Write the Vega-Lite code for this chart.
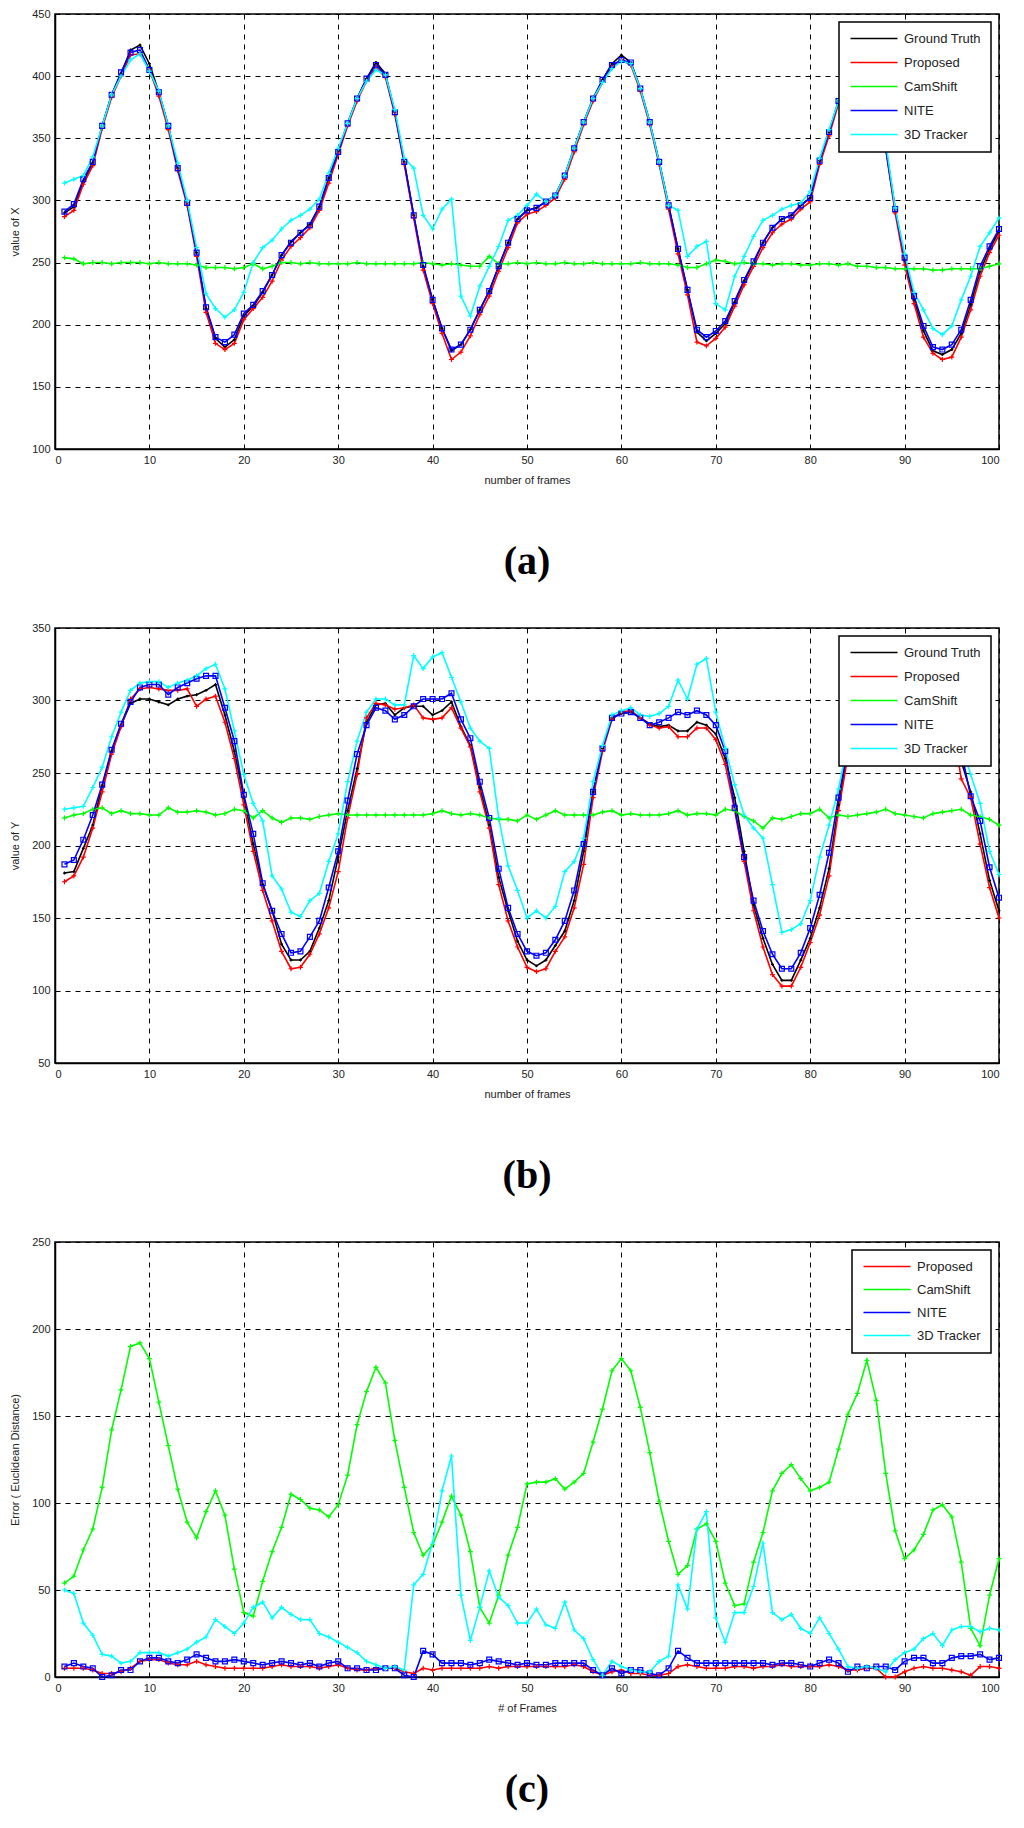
{
"$schema": "https://vega.github.io/schema/vega-lite/v6.json",
"background": "white",
"padding": {"left": 8, "top": 7, "right": 5, "bottom": 2},
"config": {
 "view": {"stroke": "black", "strokeWidth": 1.5},
 "axis": {"grid": true, "gridColor": "black", "gridDash": [5, 5], "gridOpacity": 1, "gridWidth": 1, "domainColor": "black", "domainWidth": 1.5, "ticks": false, "labelFont": "Liberation Sans", "labelFontSize": 11, "labelColor": "#222", "titleFont": "Liberation Sans", "titleFontSize": 11, "titleFontWeight": "normal", "titleColor": "#222", "labelPadding": 5},
 "axisX": {"titlePadding": 9},
 "axisY": {"titlePadding": 11},
 "legend": {"fillColor": "white", "strokeColor": "black", "strokeWidth": 1.5, "padding": 10, "symbolType": "M-1,0H8.4", "symbolSize": 100, "symbolStrokeWidth": 1.6, "labelFont": "Liberation Sans", "labelFontSize": 13, "labelColor": "#222", "rowPadding": 10, "labelOffset": 42, "orient": "top-right", "offset": 8, "labelLimit": 200},
 "title": {"font": "Liberation Serif", "fontSize": 40, "fontWeight": "bold", "orient": "bottom", "anchor": "middle", "offset": 57, "color": "black"},
 "concat": {"spacing": 38}
},
"datasets": {
"a": [
{"f":1,"GT":290,"PR":287,"CS":254,"NI":291,"TD":314},
{"f":2,"GT":295,"PR":292,"CS":253,"NI":297,"TD":317},
{"f":3,"GT":315,"PR":313,"CS":249,"NI":317,"TD":320},
{"f":4,"GT":330,"PR":328,"CS":250,"NI":331,"TD":335},
{"f":5,"GT":360,"PR":358,"CS":250,"NI":360,"TD":360},
{"f":6,"GT":385,"PR":383,"CS":249,"NI":385,"TD":385},
{"f":7,"GT":402,"PR":400,"CS":250,"NI":403,"TD":400},
{"f":8,"GT":421,"PR":417,"CS":250,"NI":419,"TD":413},
{"f":9,"GT":425,"PR":418,"CS":250,"NI":421,"TD":418},
{"f":10,"GT":410,"PR":405,"CS":249,"NI":405,"TD":404},
{"f":11,"GT":387,"PR":384,"CS":250,"NI":387,"TD":388},
{"f":12,"GT":360,"PR":357,"CS":249,"NI":360,"TD":360},
{"f":13,"GT":326,"PR":324,"CS":249,"NI":326,"TD":330},
{"f":14,"GT":298,"PR":296,"CS":249,"NI":298,"TD":300},
{"f":15,"GT":258,"PR":255,"CS":248,"NI":258,"TD":262},
{"f":16,"GT":213,"PR":210,"CS":246,"NI":214,"TD":225},
{"f":17,"GT":189,"PR":185,"CS":246,"NI":190,"TD":213},
{"f":18,"GT":182,"PR":180,"CS":246,"NI":186,"TD":206},
{"f":19,"GT":188,"PR":185,"CS":245,"NI":192,"TD":212},
{"f":20,"GT":207,"PR":204,"CS":246,"NI":209,"TD":226},
{"f":21,"GT":215,"PR":213,"CS":249,"NI":216,"TD":250},
{"f":22,"GT":226,"PR":222,"CS":245,"NI":227,"TD":262},
{"f":23,"GT":240,"PR":235,"CS":247,"NI":240,"TD":268},
{"f":24,"GT":256,"PR":252,"CS":250,"NI":256,"TD":277},
{"f":25,"GT":267,"PR":263,"CS":250,"NI":266,"TD":284},
{"f":26,"GT":274,"PR":270,"CS":249,"NI":274,"TD":288},
{"f":27,"GT":281,"PR":278,"CS":250,"NI":280,"TD":293},
{"f":28,"GT":295,"PR":292,"CS":249,"NI":295,"TD":301},
{"f":29,"GT":318,"PR":314,"CS":249,"NI":318,"TD":322},
{"f":30,"GT":340,"PR":337,"CS":249,"NI":339,"TD":342},
{"f":31,"GT":362,"PR":360,"CS":249,"NI":362,"TD":362},
{"f":32,"GT":382,"PR":380,"CS":250,"NI":382,"TD":382},
{"f":33,"GT":398,"PR":396,"CS":249,"NI":398,"TD":396},
{"f":34,"GT":411,"PR":407,"CS":249,"NI":409,"TD":405},
{"f":35,"GT":402,"PR":399,"CS":249,"NI":401,"TD":401},
{"f":36,"GT":371,"PR":369,"CS":249,"NI":371,"TD":373},
{"f":37,"GT":331,"PR":329,"CS":249,"NI":331,"TD":334},
{"f":38,"GT":288,"PR":286,"CS":249,"NI":288,"TD":326},
{"f":39,"GT":247,"PR":244,"CS":250,"NI":248,"TD":288},
{"f":40,"GT":220,"PR":217,"CS":249,"NI":220,"TD":277},
{"f":41,"GT":197,"PR":193,"CS":248,"NI":197,"TD":293},
{"f":42,"GT":179,"PR":172,"CS":249,"NI":180,"TD":301},
{"f":43,"GT":184,"PR":178,"CS":248,"NI":184,"TD":223},
{"f":44,"GT":196,"PR":191,"CS":247,"NI":196,"TD":207},
{"f":45,"GT":212,"PR":208,"CS":247,"NI":212,"TD":231},
{"f":46,"GT":227,"PR":223,"CS":255,"NI":227,"TD":247},
{"f":47,"GT":247,"PR":243,"CS":249,"NI":247,"TD":263},
{"f":48,"GT":266,"PR":262,"CS":249,"NI":266,"TD":284},
{"f":49,"GT":285,"PR":282,"CS":250,"NI":285,"TD":288},
{"f":50,"GT":292,"PR":289,"CS":249,"NI":292,"TD":296},
{"f":51,"GT":294,"PR":291,"CS":250,"NI":294,"TD":305},
{"f":52,"GT":299,"PR":296,"CS":249,"NI":299,"TD":299},
{"f":53,"GT":304,"PR":302,"CS":249,"NI":304,"TD":304},
{"f":54,"GT":320,"PR":317,"CS":250,"NI":320,"TD":320},
{"f":55,"GT":342,"PR":339,"CS":249,"NI":342,"TD":342},
{"f":56,"GT":363,"PR":361,"CS":249,"NI":363,"TD":363},
{"f":57,"GT":382,"PR":380,"CS":250,"NI":382,"TD":382},
{"f":58,"GT":397,"PR":395,"CS":249,"NI":397,"TD":395},
{"f":59,"GT":410,"PR":407,"CS":249,"NI":409,"TD":406},
{"f":60,"GT":417,"PR":413,"CS":249,"NI":413,"TD":412},
{"f":61,"GT":411,"PR":409,"CS":249,"NI":411,"TD":410},
{"f":62,"GT":390,"PR":388,"CS":250,"NI":390,"TD":390},
{"f":63,"GT":363,"PR":361,"CS":249,"NI":363,"TD":363},
{"f":64,"GT":331,"PR":329,"CS":249,"NI":331,"TD":331},
{"f":65,"GT":296,"PR":293,"CS":249,"NI":296,"TD":296},
{"f":66,"GT":261,"PR":257,"CS":248,"NI":261,"TD":292},
{"f":67,"GT":228,"PR":224,"CS":246,"NI":228,"TD":255},
{"f":68,"GT":194,"PR":186,"CS":246,"NI":196,"TD":263},
{"f":69,"GT":187,"PR":183,"CS":249,"NI":190,"TD":267},
{"f":70,"GT":193,"PR":189,"CS":252,"NI":195,"TD":217},
{"f":71,"GT":201,"PR":198,"CS":251,"NI":203,"TD":212},
{"f":72,"GT":218,"PR":215,"CS":249,"NI":219,"TD":239},
{"f":73,"GT":235,"PR":232,"CS":250,"NI":236,"TD":255},
{"f":74,"GT":250,"PR":247,"CS":249,"NI":251,"TD":271},
{"f":75,"GT":266,"PR":262,"CS":249,"NI":266,"TD":284},
{"f":76,"GT":278,"PR":274,"CS":248,"NI":278,"TD":288},
{"f":77,"GT":285,"PR":281,"CS":249,"NI":285,"TD":293},
{"f":78,"GT":288,"PR":285,"CS":249,"NI":288,"TD":296},
{"f":79,"GT":296,"PR":293,"CS":248,"NI":296,"TD":298},
{"f":80,"GT":302,"PR":299,"CS":248,"NI":302,"TD":307},
{"f":81,"GT":332,"PR":329,"CS":249,"NI":332,"TD":334},
{"f":82,"GT":355,"PR":352,"CS":249,"NI":355,"TD":357},
{"f":83,"GT":380,"PR":378,"CS":248,"NI":380,"TD":380},
{"f":84,"GT":400,"PR":398,"CS":249,"NI":400,"TD":400},
{"f":85,"GT":412,"PR":410,"CS":247,"NI":412,"TD":410},
{"f":86,"GT":415,"PR":412,"CS":247,"NI":414,"TD":412},
{"f":87,"GT":395,"PR":392,"CS":246,"NI":394,"TD":395},
{"f":88,"GT":343,"PR":341,"CS":246,"NI":342,"TD":347},
{"f":89,"GT":293,"PR":290,"CS":245,"NI":293,"TD":294},
{"f":90,"GT":252,"PR":248,"CS":245,"NI":254,"TD":257},
{"f":91,"GT":220,"PR":217,"CS":245,"NI":223,"TD":226},
{"f":92,"GT":195,"PR":190,"CS":245,"NI":199,"TD":212},
{"f":93,"GT":179,"PR":177,"CS":244,"NI":182,"TD":197},
{"f":94,"GT":176,"PR":172,"CS":244,"NI":180,"TD":192},
{"f":95,"GT":180,"PR":174,"CS":245,"NI":184,"TD":199},
{"f":96,"GT":193,"PR":190,"CS":245,"NI":196,"TD":220},
{"f":97,"GT":216,"PR":212,"CS":245,"NI":220,"TD":239},
{"f":98,"GT":243,"PR":239,"CS":245,"NI":247,"TD":263},
{"f":99,"GT":261,"PR":258,"CS":247,"NI":263,"TD":274},
{"f":100,"GT":275,"PR":272,"CS":249,"NI":277,"TD":286}
],
"b": [
{"f":1,"GT":181,"PR":175,"CS":219,"NI":187,"TD":225},
{"f":2,"GT":182,"PR":179,"CS":221,"NI":190,"TD":226},
{"f":3,"GT":198,"PR":192,"CS":222,"NI":204,"TD":227},
{"f":4,"GT":214,"PR":212,"CS":225,"NI":221,"TD":240},
{"f":5,"GT":241,"PR":237,"CS":226,"NI":242,"TD":254},
{"f":6,"GT":265,"PR":263,"CS":222,"NI":266,"TD":275},
{"f":7,"GT":283,"PR":282,"CS":224,"NI":284,"TD":292},
{"f":8,"GT":298,"PR":301,"CS":222,"NI":299,"TD":307},
{"f":9,"GT":301,"PR":308,"CS":222,"NI":309,"TD":312},
{"f":10,"GT":301,"PR":309,"CS":221,"NI":311,"TD":313},
{"f":11,"GT":299,"PR":308,"CS":221,"NI":311,"TD":313},
{"f":12,"GT":297,"PR":307,"CS":226,"NI":304,"TD":309},
{"f":13,"GT":301,"PR":307,"CS":223,"NI":309,"TD":312},
{"f":14,"GT":303,"PR":308,"CS":223,"NI":312,"TD":314},
{"f":15,"GT":304,"PR":296,"CS":224,"NI":315,"TD":317},
{"f":16,"GT":307,"PR":301,"CS":223,"NI":317,"TD":322},
{"f":17,"GT":311,"PR":303,"CS":221,"NI":317,"TD":325},
{"f":18,"GT":290,"PR":285,"CS":222,"NI":295,"TD":308},
{"f":19,"GT":265,"PR":260,"CS":225,"NI":272,"TD":279},
{"f":20,"GT":233,"PR":228,"CS":224,"NI":235,"TD":249},
{"f":21,"GT":201,"PR":196,"CS":219,"NI":208,"TD":229},
{"f":22,"GT":173,"PR":169,"CS":224,"NI":174,"TD":217},
{"f":23,"GT":155,"PR":148,"CS":219,"NI":155,"TD":179},
{"f":24,"GT":132,"PR":127,"CS":216,"NI":139,"TD":170},
{"f":25,"GT":121,"PR":115,"CS":219,"NI":126,"TD":154},
{"f":26,"GT":121,"PR":116,"CS":219,"NI":127,"TD":151},
{"f":27,"GT":127,"PR":125,"CS":218,"NI":137,"TD":162},
{"f":28,"GT":143,"PR":139,"CS":220,"NI":148,"TD":167},
{"f":29,"GT":162,"PR":157,"CS":221,"NI":171,"TD":189},
{"f":30,"GT":192,"PR":182,"CS":222,"NI":196,"TD":208},
{"f":31,"GT":224,"PR":219,"CS":221,"NI":231,"TD":244},
{"f":32,"GT":253,"PR":249,"CS":221,"NI":263,"TD":272},
{"f":33,"GT":285,"PR":288,"CS":221,"NI":283,"TD":292},
{"f":34,"GT":297,"PR":298,"CS":221,"NI":295,"TD":301},
{"f":35,"GT":298,"PR":297,"CS":221,"NI":293,"TD":301},
{"f":36,"GT":290,"PR":294,"CS":221,"NI":287,"TD":297},
{"f":37,"GT":295,"PR":295,"CS":221,"NI":290,"TD":297},
{"f":38,"GT":296,"PR":297,"CS":221,"NI":296,"TD":331},
{"f":39,"GT":296,"PR":288,"CS":221,"NI":301,"TD":322},
{"f":40,"GT":290,"PR":287,"CS":222,"NI":301,"TD":330},
{"f":41,"GT":293,"PR":288,"CS":224,"NI":301,"TD":333},
{"f":42,"GT":299,"PR":295,"CS":222,"NI":305,"TD":316},
{"f":43,"GT":282,"PR":281,"CS":221,"NI":287,"TD":299},
{"f":44,"GT":269,"PR":268,"CS":222,"NI":274,"TD":281},
{"f":45,"GT":240,"PR":237,"CS":221,"NI":244,"TD":272},
{"f":46,"GT":214,"PR":212,"CS":219,"NI":219,"TD":267},
{"f":47,"GT":178,"PR":173,"CS":218,"NI":184,"TD":219},
{"f":48,"GT":155,"PR":148,"CS":218,"NI":157,"TD":186},
{"f":49,"GT":134,"PR":130,"CS":217,"NI":139,"TD":169},
{"f":50,"GT":121,"PR":116,"CS":221,"NI":127,"TD":150},
{"f":51,"GT":117,"PR":113,"CS":218,"NI":124,"TD":155},
{"f":52,"GT":121,"PR":115,"CS":221,"NI":126,"TD":150},
{"f":53,"GT":131,"PR":127,"CS":224,"NI":135,"TD":158},
{"f":54,"GT":141,"PR":137,"CS":221,"NI":148,"TD":182},
{"f":55,"GT":162,"PR":157,"CS":221,"NI":169,"TD":189},
{"f":56,"GT":196,"PR":187,"CS":221,"NI":201,"TD":205},
{"f":57,"GT":237,"PR":233,"CS":221,"NI":237,"TD":244},
{"f":58,"GT":267,"PR":265,"CS":223,"NI":267,"TD":269},
{"f":59,"GT":288,"PR":287,"CS":224,"NI":288,"TD":290},
{"f":60,"GT":291,"PR":292,"CS":221,"NI":291,"TD":293},
{"f":61,"GT":292,"PR":293,"CS":222,"NI":292,"TD":295},
{"f":62,"GT":288,"PR":288,"CS":221,"NI":288,"TD":290},
{"f":63,"GT":284,"PR":283,"CS":221,"NI":283,"TD":289},
{"f":64,"GT":282,"PR":281,"CS":221,"NI":285,"TD":291},
{"f":65,"GT":283,"PR":282,"CS":222,"NI":288,"TD":296},
{"f":66,"GT":279,"PR":275,"CS":224,"NI":292,"TD":314},
{"f":67,"GT":279,"PR":275,"CS":221,"NI":290,"TD":301},
{"f":68,"GT":285,"PR":281,"CS":222,"NI":293,"TD":325},
{"f":69,"GT":283,"PR":281,"CS":222,"NI":290,"TD":329},
{"f":70,"GT":277,"PR":273,"CS":221,"NI":283,"TD":292},
{"f":71,"GT":260,"PR":256,"CS":225,"NI":265,"TD":267},
{"f":72,"GT":233,"PR":224,"CS":224,"NI":226,"TD":242},
{"f":73,"GT":196,"PR":189,"CS":220,"NI":192,"TD":221},
{"f":74,"GT":159,"PR":155,"CS":217,"NI":162,"TD":212},
{"f":75,"GT":136,"PR":130,"CS":212,"NI":141,"TD":205},
{"f":76,"GT":118,"PR":111,"CS":219,"NI":125,"TD":173},
{"f":77,"GT":107,"PR":103,"CS":218,"NI":115,"TD":140},
{"f":78,"GT":107,"PR":103,"CS":220,"NI":115,"TD":142},
{"f":79,"GT":121,"PR":116,"CS":222,"NI":126,"TD":146},
{"f":80,"GT":136,"PR":133,"CS":222,"NI":143,"TD":162},
{"f":81,"GT":157,"PR":152,"CS":225,"NI":166,"TD":192},
{"f":82,"GT":184,"PR":179,"CS":219,"NI":195,"TD":214},
{"f":83,"GT":228,"PR":224,"CS":221,"NI":233,"TD":239},
{"f":84,"GT":265,"PR":262,"CS":220,"NI":268,"TD":272},
{"f":85,"GT":285,"PR":283,"CS":221,"NI":288,"TD":292},
{"f":86,"GT":294,"PR":292,"CS":222,"NI":296,"TD":300},
{"f":87,"GT":297,"PR":295,"CS":223,"NI":298,"TD":303},
{"f":88,"GT":296,"PR":294,"CS":225,"NI":297,"TD":302},
{"f":89,"GT":295,"PR":293,"CS":222,"NI":296,"TD":300},
{"f":90,"GT":294,"PR":292,"CS":221,"NI":295,"TD":299},
{"f":91,"GT":295,"PR":293,"CS":220,"NI":296,"TD":300},
{"f":92,"GT":296,"PR":294,"CS":219,"NI":297,"TD":301},
{"f":93,"GT":297,"PR":295,"CS":222,"NI":298,"TD":302},
{"f":94,"GT":296,"PR":294,"CS":223,"NI":297,"TD":301},
{"f":95,"GT":290,"PR":287,"CS":224,"NI":292,"TD":296},
{"f":96,"GT":258,"PR":246,"CS":225,"NI":265,"TD":270},
{"f":97,"GT":237,"PR":233,"CS":221,"NI":234,"TD":249},
{"f":98,"GT":208,"PR":201,"CS":220,"NI":217,"TD":229},
{"f":99,"GT":176,"PR":171,"CS":218,"NI":185,"TD":196},
{"f":100,"GT":155,"PR":150,"CS":214,"NI":164,"TD":180}
],
"c": [
{"f":1,"PR":5,"CS":54,"NI":6,"TD":50},
{"f":2,"PR":5,"CS":58,"NI":8,"TD":48},
{"f":3,"PR":5,"CS":73,"NI":6,"TD":31},
{"f":4,"PR":4,"CS":85,"NI":5,"TD":24},
{"f":5,"PR":2,"CS":109,"NI":0,"TD":13},
{"f":6,"PR":2,"CS":142,"NI":1,"TD":12},
{"f":7,"PR":3,"CS":165,"NI":4,"TD":8},
{"f":8,"PR":5,"CS":190,"NI":4,"TD":9},
{"f":9,"PR":9,"CS":192,"NI":9,"TD":14},
{"f":10,"PR":10,"CS":183,"NI":11,"TD":14},
{"f":11,"PR":10,"CS":158,"NI":11,"TD":14},
{"f":12,"PR":8,"CS":133,"NI":9,"TD":12},
{"f":13,"PR":7,"CS":108,"NI":8,"TD":14},
{"f":14,"PR":7,"CS":89,"NI":10,"TD":16},
{"f":15,"PR":9,"CS":80,"NI":13,"TD":20},
{"f":16,"PR":7,"CS":95,"NI":11,"TD":23},
{"f":17,"PR":6,"CS":107,"NI":9,"TD":33},
{"f":18,"PR":5,"CS":93,"NI":9,"TD":29},
{"f":19,"PR":5,"CS":62,"NI":10,"TD":25},
{"f":20,"PR":5,"CS":37,"NI":9,"TD":31},
{"f":21,"PR":5,"CS":35,"NI":8,"TD":40},
{"f":22,"PR":5,"CS":55,"NI":7,"TD":43},
{"f":23,"PR":6,"CS":72,"NI":8,"TD":34},
{"f":24,"PR":7,"CS":86,"NI":9,"TD":40},
{"f":25,"PR":6,"CS":105,"NI":8,"TD":36},
{"f":26,"PR":6,"CS":102,"NI":7,"TD":33},
{"f":27,"PR":6,"CS":97,"NI":8,"TD":33},
{"f":28,"PR":5,"CS":96,"NI":6,"TD":25},
{"f":29,"PR":6,"CS":92,"NI":8,"TD":23},
{"f":30,"PR":7,"CS":99,"NI":9,"TD":20},
{"f":31,"PR":5,"CS":116,"NI":5,"TD":17},
{"f":32,"PR":4,"CS":145,"NI":5,"TD":14},
{"f":33,"PR":4,"CS":164,"NI":4,"TD":9},
{"f":34,"PR":5,"CS":178,"NI":4,"TD":7},
{"f":35,"PR":5,"CS":169,"NI":5,"TD":5},
{"f":36,"PR":5,"CS":136,"NI":5,"TD":6},
{"f":37,"PR":3,"CS":109,"NI":1,"TD":4},
{"f":38,"PR":2,"CS":83,"NI":0,"TD":53},
{"f":39,"PR":5,"CS":70,"NI":15,"TD":59},
{"f":40,"PR":4,"CS":76,"NI":13,"TD":77},
{"f":41,"PR":5,"CS":89,"NI":8,"TD":107},
{"f":42,"PR":5,"CS":104,"NI":8,"TD":127},
{"f":43,"PR":5,"CS":93,"NI":8,"TD":47},
{"f":44,"PR":5,"CS":72,"NI":7,"TD":21},
{"f":45,"PR":5,"CS":40,"NI":8,"TD":40},
{"f":46,"PR":6,"CS":31,"NI":10,"TD":61},
{"f":47,"PR":5,"CS":47,"NI":9,"TD":46},
{"f":48,"PR":6,"CS":70,"NI":8,"TD":41},
{"f":49,"PR":6,"CS":86,"NI":7,"TD":31},
{"f":50,"PR":6,"CS":111,"NI":8,"TD":31},
{"f":51,"PR":6,"CS":112,"NI":7,"TD":39},
{"f":52,"PR":6,"CS":112,"NI":7,"TD":30},
{"f":53,"PR":6,"CS":114,"NI":8,"TD":28},
{"f":54,"PR":6,"CS":108,"NI":8,"TD":43},
{"f":55,"PR":7,"CS":112,"NI":8,"TD":27},
{"f":56,"PR":6,"CS":117,"NI":8,"TD":22},
{"f":57,"PR":3,"CS":135,"NI":4,"TD":10},
{"f":58,"PR":1,"CS":154,"NI":1,"TD":1},
{"f":59,"PR":3,"CS":176,"NI":5,"TD":9},
{"f":60,"PR":4,"CS":183,"NI":2,"TD":6},
{"f":61,"PR":2,"CS":176,"NI":4,"TD":4},
{"f":62,"PR":2,"CS":155,"NI":4,"TD":3},
{"f":63,"PR":1,"CS":129,"NI":2,"TD":3},
{"f":64,"PR":1,"CS":101,"NI":1,"TD":9},
{"f":65,"PR":2,"CS":78,"NI":5,"TD":12},
{"f":66,"PR":6,"CS":59,"NI":15,"TD":53},
{"f":67,"PR":7,"CS":64,"NI":11,"TD":39},
{"f":68,"PR":6,"CS":85,"NI":8,"TD":85},
{"f":69,"PR":5,"CS":88,"NI":8,"TD":95},
{"f":70,"PR":5,"CS":78,"NI":8,"TD":34},
{"f":71,"PR":5,"CS":54,"NI":8,"TD":20},
{"f":72,"PR":6,"CS":41,"NI":8,"TD":37},
{"f":73,"PR":6,"CS":42,"NI":8,"TD":37},
{"f":74,"PR":5,"CS":66,"NI":8,"TD":52},
{"f":75,"PR":6,"CS":83,"NI":8,"TD":77},
{"f":76,"PR":6,"CS":107,"NI":7,"TD":37},
{"f":77,"PR":7,"CS":117,"NI":8,"TD":33},
{"f":78,"PR":6,"CS":122,"NI":8,"TD":36},
{"f":79,"PR":6,"CS":114,"NI":7,"TD":28},
{"f":80,"PR":6,"CS":107,"NI":6,"TD":25},
{"f":81,"PR":6,"CS":109,"NI":8,"TD":34},
{"f":82,"PR":7,"CS":112,"NI":10,"TD":25},
{"f":83,"PR":6,"CS":131,"NI":8,"TD":16},
{"f":84,"PR":4,"CS":151,"NI":3,"TD":6},
{"f":85,"PR":4,"CS":163,"NI":6,"TD":5},
{"f":86,"PR":5,"CS":182,"NI":5,"TD":6},
{"f":87,"PR":5,"CS":159,"NI":6,"TD":5},
{"f":88,"PR":0,"CS":117,"NI":6,"TD":3},
{"f":89,"PR":0,"CS":84,"NI":4,"TD":10},
{"f":90,"PR":3,"CS":68,"NI":9,"TD":14},
{"f":91,"PR":5,"CS":73,"NI":11,"TD":16},
{"f":92,"PR":6,"CS":82,"NI":11,"TD":22},
{"f":93,"PR":5,"CS":96,"NI":8,"TD":25},
{"f":94,"PR":5,"CS":99,"NI":8,"TD":18},
{"f":95,"PR":4,"CS":92,"NI":11,"TD":27},
{"f":96,"PR":3,"CS":66,"NI":12,"TD":29},
{"f":97,"PR":1,"CS":28,"NI":12,"TD":29},
{"f":98,"PR":6,"CS":18,"NI":13,"TD":26},
{"f":99,"PR":6,"CS":47,"NI":10,"TD":28},
{"f":100,"PR":5,"CS":68,"NI":11,"TD":27}
]
},
"vconcat": [
{
 "data": {"name": "a"},
 "width": 944, "height": 435,
 "title": {"text": "(a)"},
 "transform": [{"fold": ["GT", "PR", "CS", "NI", "TD"], "as": ["s", "v"]}],
 "encoding": {
  "x": {"field": "f", "type": "quantitative", "scale": {"domain": [0, 100], "nice": false}, "axis": {"title": "number of frames", "values": [0,10,20,30,40,50,60,70,80,90,100]}},
  "y": {"field": "v", "type": "quantitative", "scale": {"domain": [100, 450], "nice": false}, "axis": {"title": "value of X", "values": [100,150,200,250,300,350,400,450]}}
 },
 "layer": [
  {"mark": {"type": "line", "strokeWidth": 1.6},
   "encoding": {"color": {"field": "s", "type": "nominal", "sort": null, "scale": {"domain": ["GT", "PR", "CS", "NI", "TD"], "range": ["#000000", "#ff0000", "#00ff00", "#0000ff", "#00ffff"]}, "legend": {"title": null, "labelExpr": "{'GT':'Ground Truth','PR':'Proposed','CS':'CamShift','NI':'NITE','TD':'3D Tracker'}[datum.label]"}}}},
  {"mark": {"type": "point", "filled": false, "size": 24, "strokeWidth": 1.2, "opacity": 1},
   "encoding": {"color": {"field": "s", "type": "nominal", "scale": {"domain": ["GT", "PR", "CS", "NI", "TD"], "range": ["#000000", "#ff0000", "#00ff00", "#0000ff", "#00ffff"]}, "legend": null},
    "shape": {"field": "s", "type": "nominal", "scale": {"domain": ["GT", "PR", "CS", "NI", "TD"], "range": ["M-0.6,0H0.6M0,-0.6V0.6", "M-1,0H1M0,-1V1", "M-1,0H1M0,-1V1", "square", "M-1,0H1M0,-1V1"]}, "legend": null}}}
 ],
 "resolve": {"scale": {"color": "independent", "shape": "independent"}, "legend": {"color": "independent", "shape": "independent"}}
},
{
 "data": {"name": "b"},
 "width": 944, "height": 435,
 "title": {"text": "(b)"},
 "transform": [{"fold": ["GT", "PR", "CS", "NI", "TD"], "as": ["s", "v"]}],
 "encoding": {
  "x": {"field": "f", "type": "quantitative", "scale": {"domain": [0, 100], "nice": false}, "axis": {"title": "number of frames", "values": [0,10,20,30,40,50,60,70,80,90,100]}},
  "y": {"field": "v", "type": "quantitative", "scale": {"domain": [50, 350], "nice": false}, "axis": {"title": "value of Y", "values": [50,100,150,200,250,300,350]}}
 },
 "layer": [
  {"mark": {"type": "line", "strokeWidth": 1.6},
   "encoding": {"color": {"field": "s", "type": "nominal", "sort": null, "scale": {"domain": ["GT", "PR", "CS", "NI", "TD"], "range": ["#000000", "#ff0000", "#00ff00", "#0000ff", "#00ffff"]}, "legend": {"title": null, "labelExpr": "{'GT':'Ground Truth','PR':'Proposed','CS':'CamShift','NI':'NITE','TD':'3D Tracker'}[datum.label]"}}}},
  {"mark": {"type": "point", "filled": false, "size": 24, "strokeWidth": 1.2, "opacity": 1},
   "encoding": {"color": {"field": "s", "type": "nominal", "scale": {"domain": ["GT", "PR", "CS", "NI", "TD"], "range": ["#000000", "#ff0000", "#00ff00", "#0000ff", "#00ffff"]}, "legend": null},
    "shape": {"field": "s", "type": "nominal", "scale": {"domain": ["GT", "PR", "CS", "NI", "TD"], "range": ["M-0.6,0H0.6M0,-0.6V0.6", "M-1,0H1M0,-1V1", "M-1,0H1M0,-1V1", "square", "M-1,0H1M0,-1V1"]}, "legend": null}}}
 ],
 "resolve": {"scale": {"color": "independent", "shape": "independent"}, "legend": {"color": "independent", "shape": "independent"}}
},
{
 "data": {"name": "c"},
 "width": 944, "height": 435,
 "title": {"text": "(c)"},
 "transform": [{"fold": ["PR", "CS", "NI", "TD"], "as": ["s", "v"]}],
 "encoding": {
  "x": {"field": "f", "type": "quantitative", "scale": {"domain": [0, 100], "nice": false}, "axis": {"title": "# of Frames", "values": [0,10,20,30,40,50,60,70,80,90,100]}},
  "y": {"field": "v", "type": "quantitative", "scale": {"domain": [0, 250], "nice": false}, "axis": {"title": "Error ( Euclidean Distance)", "values": [0,50,100,150,200,250]}}
 },
 "layer": [
  {"mark": {"type": "line", "strokeWidth": 1.6},
   "encoding": {"color": {"field": "s", "type": "nominal", "sort": null, "scale": {"domain": ["PR", "CS", "NI", "TD"], "range": ["#ff0000", "#00ff00", "#0000ff", "#00ffff"]}, "legend": {"title": null, "rowPadding": 9, "labelExpr": "{'PR':'Proposed','CS':'CamShift','NI':'NITE','TD':'3D Tracker'}[datum.label]"}}}},
  {"mark": {"type": "point", "filled": false, "size": 24, "strokeWidth": 1.2, "opacity": 1},
   "encoding": {"color": {"field": "s", "type": "nominal", "scale": {"domain": ["PR", "CS", "NI", "TD"], "range": ["#ff0000", "#00ff00", "#0000ff", "#00ffff"]}, "legend": null},
    "shape": {"field": "s", "type": "nominal", "scale": {"domain": ["PR", "CS", "NI", "TD"], "range": ["M-1,0H1M0,-1V1", "M-1,0H1M0,-1V1", "square", "M-1,0H1M0,-1V1"]}, "legend": null}}}
 ],
 "resolve": {"scale": {"color": "independent", "shape": "independent"}, "legend": {"color": "independent", "shape": "independent"}}
}
]
}
